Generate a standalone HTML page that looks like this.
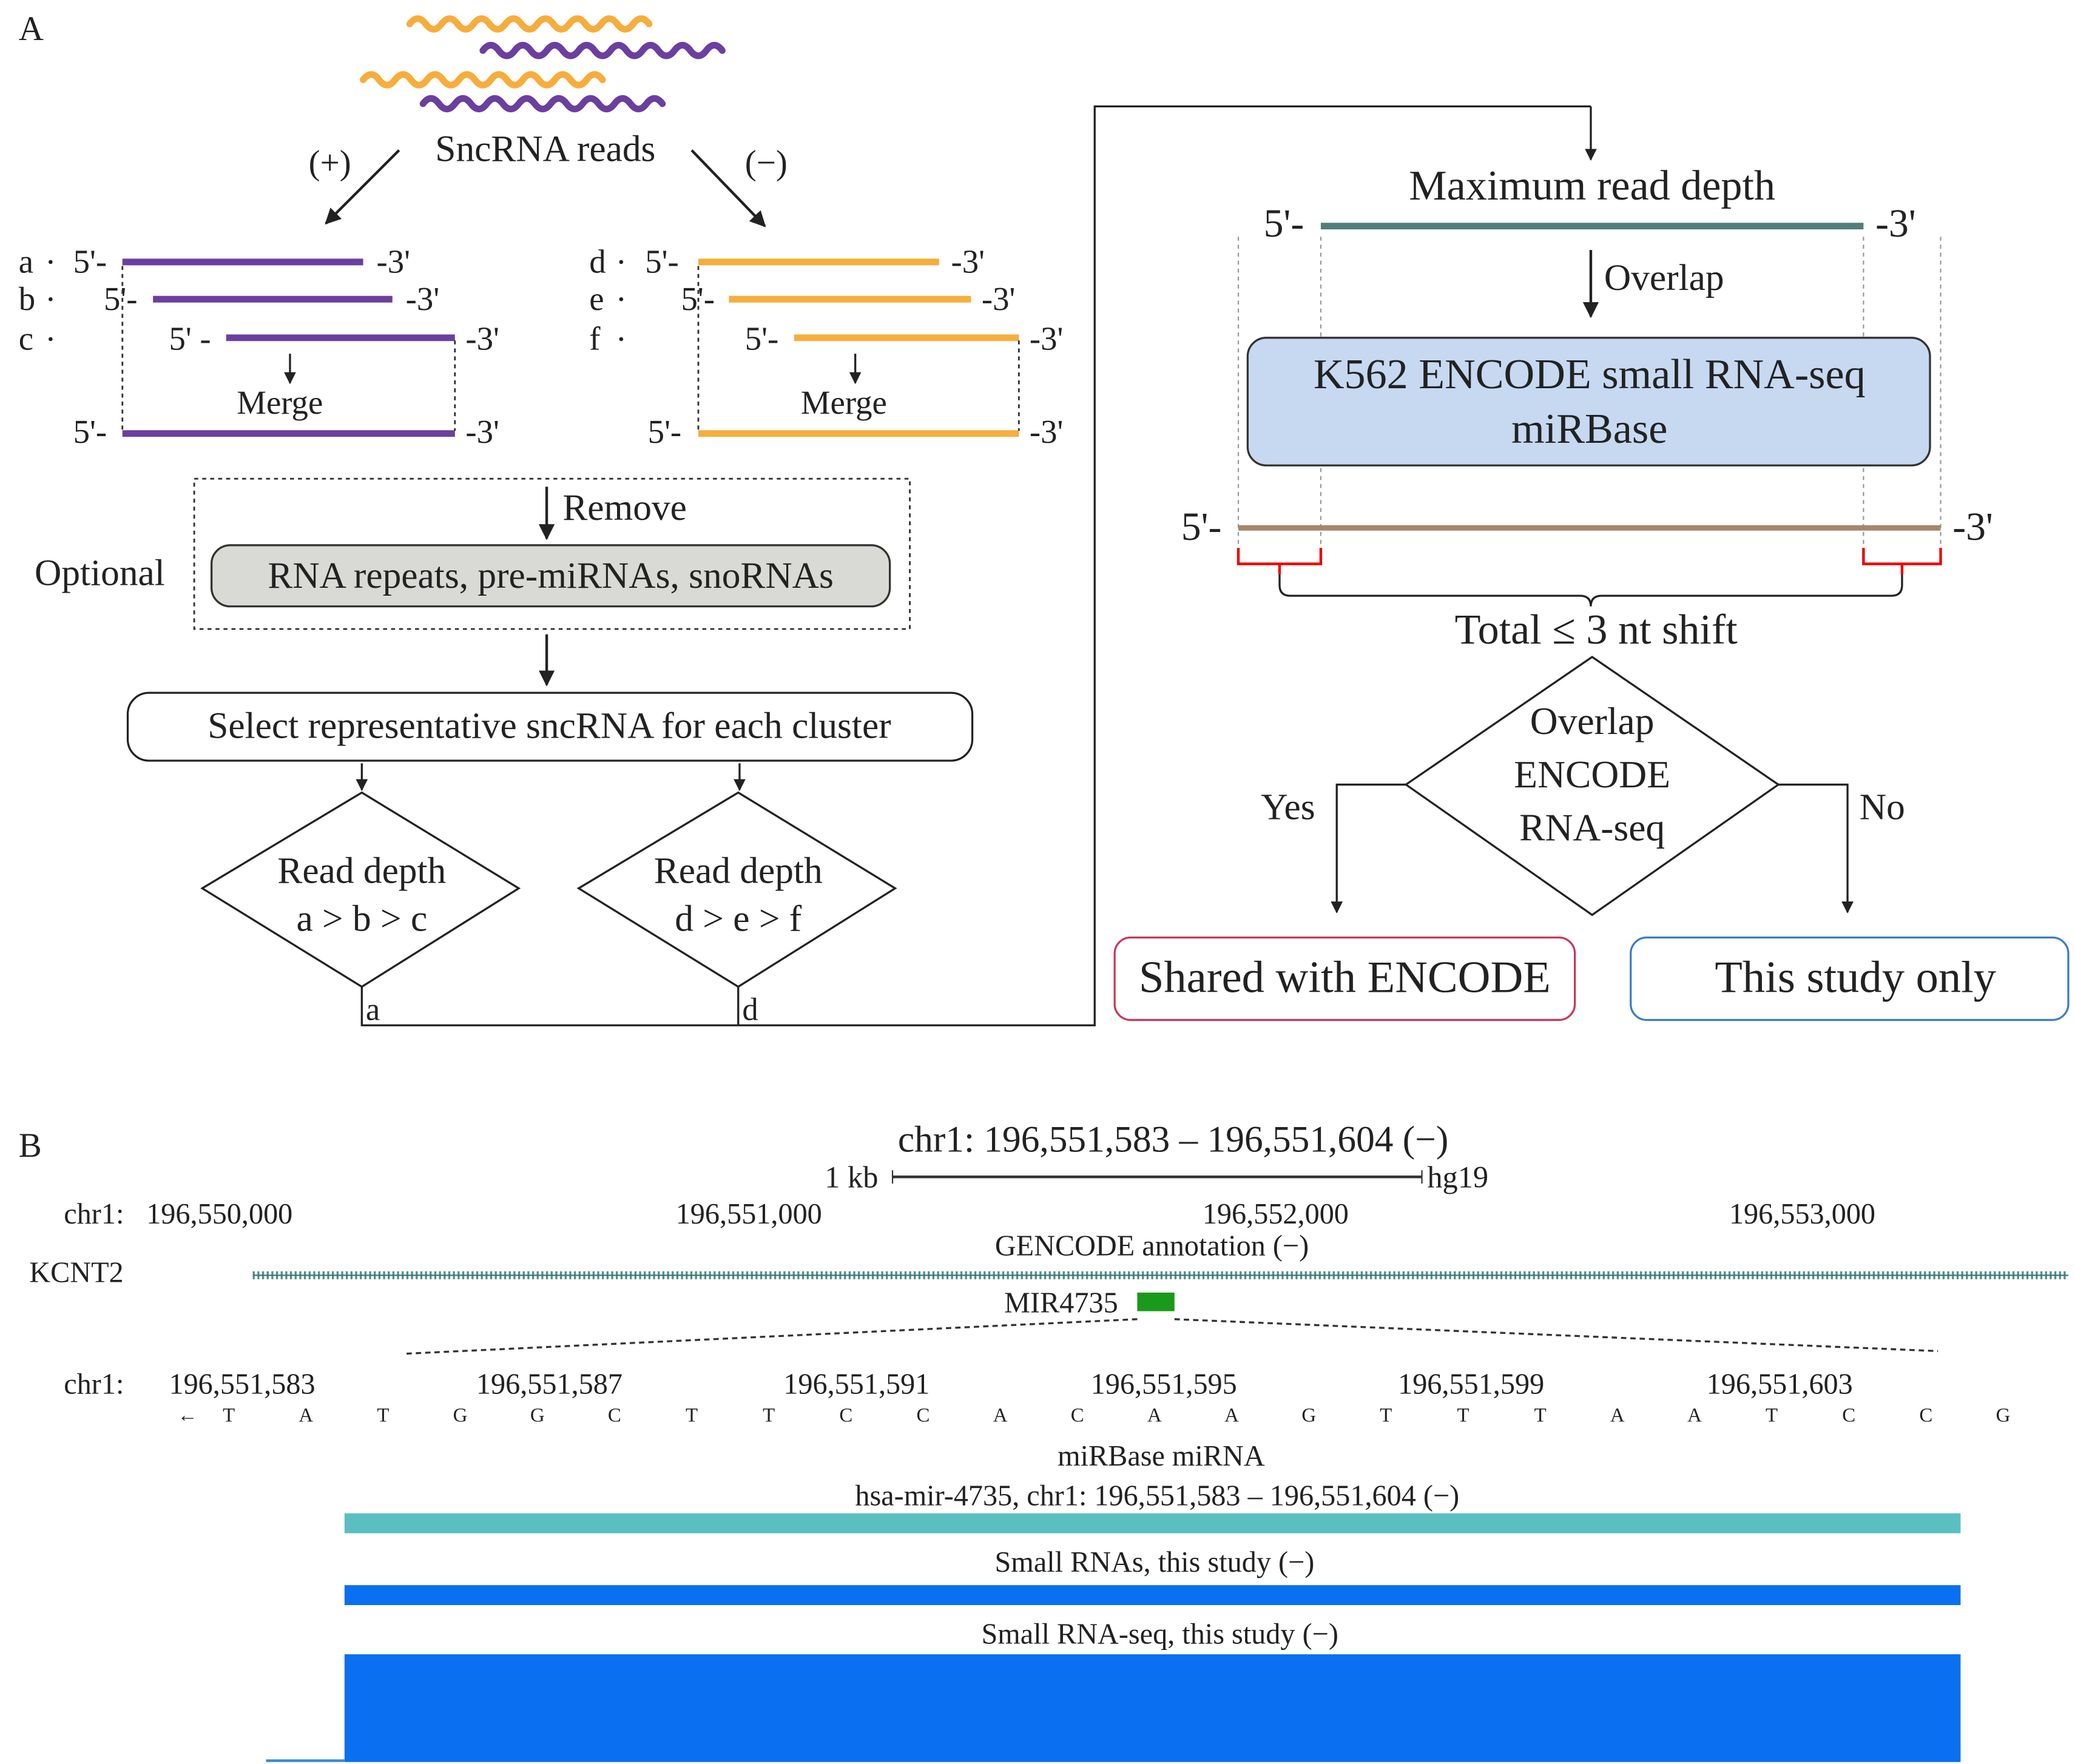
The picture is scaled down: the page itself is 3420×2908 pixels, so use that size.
<!DOCTYPE html>
<html><head><meta charset="utf-8"><style>
html,body{margin:0;padding:0;background:#fff}
svg{display:block}
text{font-family:"Liberation Serif",serif;fill:#222}
</style></head><body>
<svg width="3420" height="2908" viewBox="0 0 1560 1326.5" xmlns="http://www.w3.org/2000/svg">
<defs>
<marker id="ar" viewBox="0 0 10 10" refX="9" refY="5" markerWidth="6" markerHeight="6" orient="auto"><path d="M0,0 L10,5 L0,10 z" fill="#222"/></marker>
</defs>
<text x="14" y="30" font-size="26">A</text>
<!-- wavy reads -->
<g fill="none" stroke-width="5" stroke-linecap="round">
<path d="M308,18 q6,-8 12,0 t12,0 t12,0 t12,0 t12,0 t12,0 t12,0 t12,0 t12,0 t12,0 t12,0 t12,0 t12,0 t12,0 t12,0" stroke="#f7ad3c"/>
<path d="M363,38 q6,-8 12,0 t12,0 t12,0 t12,0 t12,0 t12,0 t12,0 t12,0 t12,0 t12,0 t12,0 t12,0 t12,0 t12,0 t12,0" stroke="#6b3fa0"/>
<path d="M273,60 q6,-8 12,0 t12,0 t12,0 t12,0 t12,0 t12,0 t12,0 t12,0 t12,0 t12,0 t12,0 t12,0 t12,0 t12,0 t12,0" stroke="#f7ad3c"/>
<path d="M318,78 q6,-8 12,0 t12,0 t12,0 t12,0 t12,0 t12,0 t12,0 t12,0 t12,0 t12,0 t12,0 t12,0 t12,0 t12,0 t12,0" stroke="#6b3fa0"/>
</g>
<text x="410" y="121" font-size="28" text-anchor="middle">SncRNA reads</text>
<text x="248" y="131" font-size="26" text-anchor="middle">(+)</text>
<text x="576" y="131" font-size="26" text-anchor="middle">(−)</text>
<g stroke="#222" stroke-width="2" fill="none">
<line x1="300" y1="113" x2="245" y2="168" marker-end="url(#ar)"/>
<line x1="520" y1="113" x2="575" y2="170" marker-end="url(#ar)"/>
</g>
<!-- plus strand -->
<g font-size="25">
<text x="14" y="205">a</text><text x="14" y="233">b</text><text x="14" y="263">c</text>
<text x="55" y="205">5'-</text><text x="283" y="205">-3'</text>
<text x="78" y="233">5'-</text><text x="305" y="233">-3'</text>
<text x="127" y="263">5' -</text><text x="350" y="263">-3'</text>
<text x="178" y="311">Merge</text>
<text x="55" y="333">5'-</text><text x="350" y="333">-3'</text>
<text x="443" y="205">d</text><text x="443" y="233">e</text><text x="443" y="263">f</text>
<text x="485" y="205">5'-</text><text x="715" y="205">-3'</text>
<text x="512" y="233">5'-</text><text x="738" y="233">-3'</text>
<text x="560" y="263">5'-</text><text x="774" y="263">-3'</text>
<text x="602" y="311">Merge</text>
<text x="487" y="333">5'-</text><text x="774" y="333">-3'</text>
</g>
<g fill="#222"><circle cx="38" cy="197" r="1.5"/><circle cx="38" cy="225" r="1.5"/><circle cx="38" cy="255" r="1.5"/><circle cx="467" cy="197" r="1.5"/><circle cx="467" cy="225" r="1.5"/><circle cx="467" cy="255" r="1.5"/></g>
<g stroke-width="5">
<line x1="92" y1="197" x2="273" y2="197" stroke="#6b3fa0"/>
<line x1="115" y1="225" x2="295" y2="225" stroke="#6b3fa0"/>
<line x1="170" y1="254" x2="342" y2="254" stroke="#6b3fa0"/>
<line x1="92" y1="326" x2="342" y2="326" stroke="#6b3fa0"/>
<line x1="525" y1="197" x2="706" y2="197" stroke="#f7ad3c"/>
<line x1="548" y1="225" x2="730" y2="225" stroke="#f7ad3c"/>
<line x1="597" y1="254" x2="766" y2="254" stroke="#f7ad3c"/>
<line x1="525" y1="326" x2="766" y2="326" stroke="#f7ad3c"/>
</g>
<g stroke="#333" stroke-width="1.3" stroke-dasharray="3,3" fill="none">
<line x1="92" y1="200" x2="92" y2="324"/><line x1="342" y1="256" x2="342" y2="324"/>
<line x1="525" y1="200" x2="525" y2="324"/><line x1="766" y1="256" x2="766" y2="324"/>
<rect x="146" y="360" width="538" height="113"/>
</g>
<g stroke="#222" stroke-width="1.5">
<line x1="218" y1="266" x2="218" y2="288" marker-end="url(#ar)"/>
<line x1="643" y1="266" x2="643" y2="288" marker-end="url(#ar)"/>
<line x1="411" y1="366" x2="411" y2="405" stroke-width="2" marker-end="url(#ar)"/>
<line x1="411" y1="477" x2="411" y2="515" stroke-width="2" marker-end="url(#ar)"/>
<line x1="272" y1="574" x2="272" y2="594" marker-end="url(#ar)"/>
<line x1="556" y1="574" x2="556" y2="594" marker-end="url(#ar)"/>
</g>
<text x="423" y="391" font-size="28">Remove</text>
<text x="26" y="440" font-size="28">Optional</text>
<rect x="159" y="410" width="510" height="46" rx="14" fill="#d9d9d6" stroke="#333" stroke-width="1.5"/>
<text x="414" y="442" font-size="28" text-anchor="middle">RNA repeats, pre-miRNAs, snoRNAs</text>
<rect x="96" y="521" width="635" height="51" rx="16" fill="#fff" stroke="#222" stroke-width="1.5"/>
<text x="413" y="555" font-size="28" text-anchor="middle">Select representative sncRNA for each cluster</text>
<g fill="#fff" stroke="#222" stroke-width="1.5">
<polygon points="272,596 390,668 272,742 152,668"/>
<polygon points="555,596 673,668 555,742 435,668"/>
</g>
<text x="272" y="664" font-size="28" text-anchor="middle">Read depth</text>
<text x="272" y="700" font-size="28" text-anchor="middle">a &gt; b &gt; c</text>
<text x="555" y="664" font-size="28" text-anchor="middle">Read depth</text>
<text x="555" y="700" font-size="28" text-anchor="middle">d &gt; e &gt; f</text>
<polyline points="272,742 272,771 823,771 823,80 1196,80" fill="none" stroke="#222" stroke-width="1.5"/>
<line x1="555" y1="742" x2="555" y2="771" stroke="#222" stroke-width="1.5"/>
<line x1="1196" y1="80" x2="1196" y2="120" stroke="#222" stroke-width="1.5" marker-end="url(#ar)"/>
<text x="275" y="767" font-size="24">a</text><text x="558" y="767" font-size="24">d</text>
<!-- right panel -->
<text x="1197" y="150" font-size="32" text-anchor="middle">Maximum read depth</text>
<text x="950" y="178" font-size="30">5'-</text><text x="1410" y="178" font-size="30">-3'</text>
<line x1="993" y1="170" x2="1401" y2="170" stroke="#4f7f7a" stroke-width="5"/>
<g stroke="#999" stroke-width="1" stroke-dasharray="3,3">
<line x1="931" y1="178" x2="931" y2="425"/><line x1="993" y1="178" x2="993" y2="425"/>
<line x1="1401" y1="178" x2="1401" y2="425"/><line x1="1459" y1="178" x2="1459" y2="425"/>
</g>
<line x1="1196" y1="188" x2="1196" y2="238" stroke="#222" stroke-width="2" marker-end="url(#ar)"/>
<text x="1206" y="218" font-size="28">Overlap</text>
<rect x="938" y="254" width="513" height="96" rx="14" fill="#c6d9f1" stroke="#333" stroke-width="1.5"/>
<text x="1195" y="292" font-size="32" text-anchor="middle">K562 ENCODE small RNA-seq</text>
<text x="1195" y="333" font-size="32" text-anchor="middle">miRBase</text>
<text x="888" y="406" font-size="30">5'-</text><text x="1468" y="406" font-size="30">-3'</text>
<line x1="931" y1="397" x2="1459" y2="397" stroke="#a6876a" stroke-width="4"/>
<g fill="none" stroke="#e00" stroke-width="2">
<polyline points="931,412 931,424 993,424 993,412"/><line x1="962" y1="424" x2="962" y2="432"/>
<polyline points="1401,412 1401,424 1459,424 1459,412"/><line x1="1430" y1="424" x2="1430" y2="432"/>
</g>
<path d="M962,432 L962,440 Q962,448 970,448 L1188,448 Q1196,448 1196,456 Q1196,448 1204,448 L1422,448 Q1430,448 1430,440 L1430,432" fill="none" stroke="#222" stroke-width="1.5"/>
<text x="1200" y="484" font-size="32" text-anchor="middle">Total ≤ 3 nt shift</text>
<polygon points="1197,494 1337,590 1197,688 1057,590" fill="#fff" stroke="#222" stroke-width="1.5"/>
<text x="1197" y="552" font-size="29" text-anchor="middle">Overlap</text>
<text x="1197" y="592" font-size="29" text-anchor="middle">ENCODE</text>
<text x="1197" y="632" font-size="29" text-anchor="middle">RNA-seq</text>
<g fill="none" stroke="#222" stroke-width="1.5">
<polyline points="1057,590 1005,590 1005,686" marker-end="url(#ar)"/>
<polyline points="1337,590 1389,590 1389,686" marker-end="url(#ar)"/>
</g>
<text x="948" y="616" font-size="28">Yes</text><text x="1398" y="616" font-size="28">No</text>
<rect x="838" y="705" width="346" height="62" rx="12" fill="#fff" stroke="#c8385c" stroke-width="1.5"/>
<text x="1011" y="746" font-size="34" text-anchor="middle">Shared with ENCODE</text>
<rect x="1226" y="705" width="329" height="62" rx="12" fill="#fff" stroke="#3d7cc9" stroke-width="1.5"/>
<text x="1395" y="746" font-size="34" text-anchor="middle">This study only</text>
<!-- B -->
<text x="14" y="870" font-size="26">B</text>
<text x="882" y="866" font-size="28" text-anchor="middle">chr1: 196,551,583 – 196,551,604 (−)</text>
<text x="620" y="893" font-size="23">1 kb</text><text x="1073" y="893" font-size="23">hg19</text>
<line x1="671" y1="885" x2="1069" y2="885" stroke="#333" stroke-width="2"/>
<line x1="671" y1="880" x2="671" y2="890" stroke="#333"/><line x1="1069" y1="880" x2="1069" y2="890" stroke="#333"/>
<g font-size="22">
<text x="48" y="920">chr1:</text><text x="110" y="920">196,550,000</text>
<text x="508" y="920">196,551,000</text><text x="904" y="920">196,552,000</text><text x="1300" y="920">196,553,000</text>
<text x="866" y="944" text-anchor="middle">GENCODE annotation (−)</text>
<text x="22" y="964">KCNT2</text>
<text x="755" y="987">MIR4735</text>
<text x="48" y="1048">chr1:</text><text x="127" y="1048">196,551,583</text><text x="358" y="1048">196,551,587</text>
<text x="589" y="1048">196,551,591</text><text x="820" y="1048">196,551,595</text><text x="1051" y="1048">196,551,599</text><text x="1283" y="1048">196,551,603</text>
<text x="873" y="1102" text-anchor="middle">miRBase miRNA</text>
<text x="870" y="1132" text-anchor="middle">hsa-mir-4735, chr1: 196,551,583 – 196,551,604 (−)</text>
<text x="868" y="1182" text-anchor="middle">Small RNAs, this study (−)</text>
<text x="872" y="1236" text-anchor="middle">Small RNA-seq, this study (−)</text>
</g>
<line x1="190" y1="959" x2="1555" y2="959" stroke="#4f8f8a" stroke-width="6" stroke-dasharray="1.5,2"/>
<line x1="190" y1="959" x2="1555" y2="959" stroke="#3a7a76" stroke-width="1"/>
<rect x="855" y="972" width="28" height="14" fill="#1a9a1a"/>
<g stroke="#333" stroke-width="1.5" stroke-dasharray="4,3" fill="none">
<line x1="855" y1="992" x2="304" y2="1018"/><line x1="883" y1="992" x2="1457" y2="1016"/>
</g>
<g font-size="15" text-anchor="middle" fill="#555">
<text x="141" y="1069">←</text><text x="172" y="1069">T</text><text x="230" y="1069">A</text><text x="288" y="1069">T</text><text x="346" y="1069">G</text><text x="404" y="1069">G</text><text x="462" y="1069">C</text><text x="520" y="1069">T</text><text x="578" y="1069">T</text><text x="636" y="1069">C</text><text x="694" y="1069">C</text><text x="752" y="1069">A</text><text x="810" y="1069">C</text><text x="868" y="1069">A</text><text x="926" y="1069">A</text><text x="984" y="1069">G</text><text x="1042" y="1069">T</text><text x="1100" y="1069">T</text><text x="1158" y="1069">T</text><text x="1216" y="1069">A</text><text x="1274" y="1069">A</text><text x="1332" y="1069">T</text><text x="1390" y="1069">C</text><text x="1448" y="1069">C</text><text x="1506" y="1069">G</text>
</g>
<rect x="259" y="1138" width="1215" height="15" fill="#5bbfc2"/>
<rect x="259" y="1192" width="1215" height="15" fill="#0a6ff0"/>
<rect x="259" y="1244" width="1215" height="81" fill="#0a6ff0"/>
<line x1="200" y1="1324" x2="259" y2="1324" stroke="#3a8ad0" stroke-width="2"/>
</svg>
</body></html>
